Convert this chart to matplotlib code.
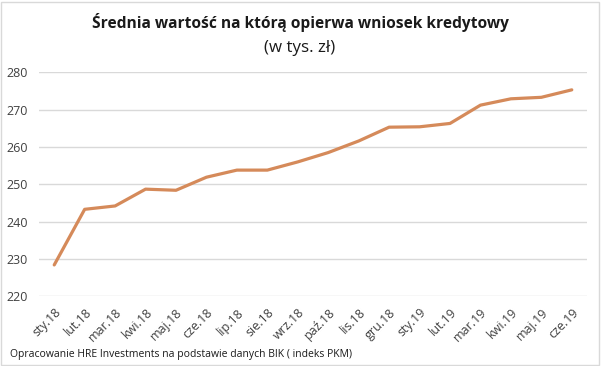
import numpy as np
import matplotlib
matplotlib.use("Agg")
import matplotlib.pyplot as plt
from matplotlib.patches import Rectangle

months = ["sty.18", "lut.18", "mar.18", "kwi.18", "maj.18", "cze.18",
          "lip.18", "sie.18", "wrz.18", "paź.18", "lis.18", "gru.18",
          "sty.19", "lut.19", "mar.19", "kwi.19", "maj.19", "cze.19"]
values = [228.4, 243.3, 244.2, 248.7, 248.4, 251.9,
          253.8, 253.8, 256.0, 258.5, 261.6, 265.3,
          265.4, 266.3, 271.2, 272.9, 273.3, 275.3]
yticks = [220, 230, 240, 250, 260, 270, 280]

plt.rcParams['font.family'] = ['Open Sans', 'DejaVu Sans']

fig = plt.figure(figsize=(6.01, 3.66), dpi=100)
ax = fig.add_axes([39/601, 1 - 296.3/366, 548/601, 224/366])

x = np.arange(len(months))
ax.plot(x, values, color="#D58A5A", lw=2.3, solid_capstyle="round")

ax.set_xlim(-0.5, len(months) - 0.5)
ax.set_ylim(220, 280)
ax.set_yticks(yticks)
ax.set_xticks(x)
ax.set_xticklabels(months, rotation=45, ha="right", rotation_mode="anchor")
ax.tick_params(axis="both", length=0, labelsize=9, colors="#404040")
ax.tick_params(axis="y", pad=8)
ax.tick_params(axis="x", pad=7)
ax.grid(axis="y", color="#D9D9D9", lw=1)
ax.set_axisbelow(True)
for s in ax.spines.values():
    s.set_visible(False)

fig.text(300/601, 1 - 23/366, "Średnia wartość na którą opierwa wniosek kredytowy",
         ha="center", va="center", fontsize=11.2, fontweight="bold", color="#1a1a1a")
fig.text(300/601, 1 - 48/366, "(w tys. zł)", ha="center", va="center",
         fontsize=12.2, color="#1a1a1a")
fig.text(10/601, 1 - 354/366, "Opracowanie HRE Investments na podstawie danych BIK ( indeks PKM)",
         ha="left", va="center", fontsize=7.5, color="#1a1a1a")

fig.patches.append(Rectangle((0.002, 0.004), 0.995, 0.99, transform=fig.transFigure,
                             fill=False, edgecolor="#D9D9D9", lw=1))

fig.savefig("out.png", dpi=100)
